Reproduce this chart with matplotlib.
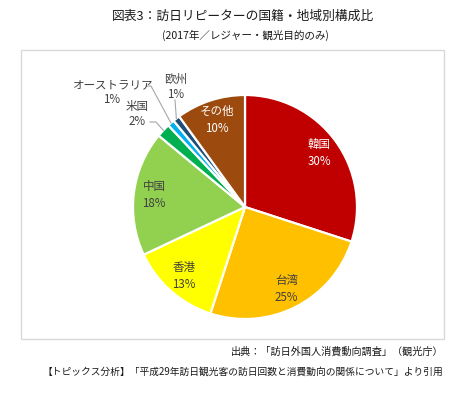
import numpy as np
import matplotlib
matplotlib.use('Agg')
import matplotlib.pyplot as plt
from matplotlib.patches import Rectangle

plt.rcParams['font.family'] = ['Noto Sans CJK JP', 'DejaVu Sans']

# data
labels = ['韓国', '台湾', '香港', '中国', '米国', 'オーストラリア', '欧州', 'その他']
shares = [30, 25, 13, 18, 2, 1, 1, 10]
colors = ['#C00000', '#FFC000', '#FFFF00', '#92D050', '#00B050', '#00B0F0', '#1F4E79', '#9C4A0E']

title = '図表3：訪日リピーターの国籍・地域別構成比'
subtitle = '(2017年／レジャー・観光目的のみ)'
source = '出典：「訪日外国人消費動向調査」（観光庁）'
note = '【トピックス分析】「平成29年訪日観光客の訪日回数と消費動向の関係について」より引用'

W, H = 468, 393
fig = plt.figure(figsize=(W / 100, H / 100), dpi=100)
ax = fig.add_axes([0, 0, 1, 1])

cx, cy, R = 245, H - 207, 112
wedges, _ = ax.pie(shares, colors=colors, startangle=90, counterclock=False,
                   center=(cx, cy), radius=R,
                   wedgeprops=dict(edgecolor='white', linewidth=1.6))
ax.set_xlim(0, W)
ax.set_ylim(0, H)
ax.set_aspect('equal', adjustable='box')
ax.axis('off')

# chart frame
ax.add_patch(Rectangle((21, H - 339), 423, 289, fill=False, edgecolor='#d9d9d9', linewidth=1))

# outside label positions (pixel coords from top)
outside = {'米国': (137, 114), 'オーストラリア': (112, 92), '欧州': (176, 87)}
white_text = {'韓国', 'その他'}

for w, lab, v in zip(wedges, labels, shares):
    mid = np.deg2rad((w.theta1 + w.theta2) / 2)
    if lab in outside:
        lx, ly = outside[lab]
        ax.text(lx, H - ly + 7.5, lab, ha='center', va='center', fontsize=8.3, color='#404040')
        ax.text(lx, H - ly - 7.5, f'{v}%', ha='center', va='center', fontsize=8.3, color='#404040')
        ex, ey = cx + R * np.cos(mid), cy + R * np.sin(mid)
        if lab == 'オーストラリア':
            pts = [(146, H - 86), (151, H - 86), (ex, ey)]
        elif lab == '米国':
            pts = [(150, H - 122), (156, H - 122), (ex, ey)]
        else:
            pts = [(175, H - 100), (ex, ey)]
        xs, ys = zip(*pts)
        ax.plot(xs, ys, color='#a6a6a6', linewidth=0.8)
    else:
        f = 0.82
        ax.text(cx + f * R * np.cos(mid), cy + f * R * np.sin(mid), f'{lab}\n{v}%',
                ha='center', va='center', fontsize=8.3, linespacing=1.4,
                color='white' if lab in white_text else '#404040')

ax.text(243, H - 16, title, ha='center', va='center', fontsize=9.2, color='#1a1a1a')
ax.text(245, H - 35, subtitle, ha='center', va='center', fontsize=7.6, color='#1a1a1a')
ax.text(443, H - 352, source, ha='right', va='center', fontsize=7.3, color='#1a1a1a')
ax.text(443, H - 372, note, ha='right', va='center', fontsize=7.0, color='#1a1a1a')

fig.savefig('out.png', dpi=100, facecolor='white')
